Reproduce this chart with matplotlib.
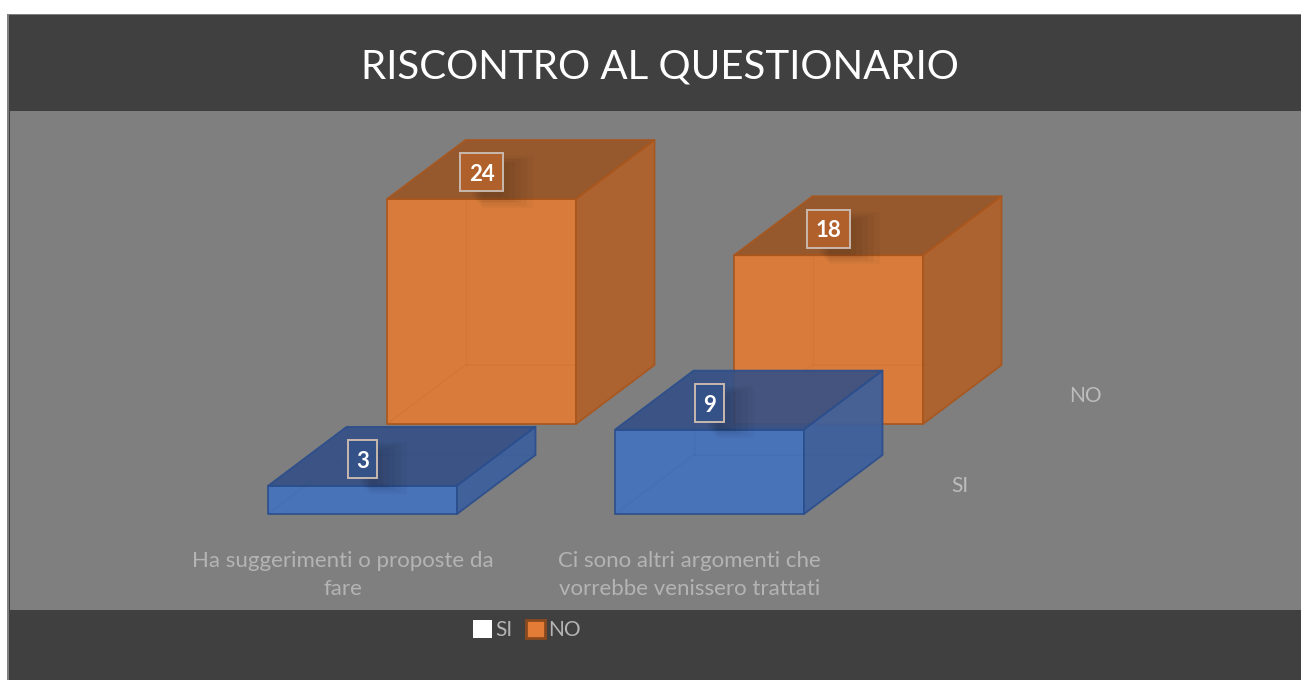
import matplotlib
matplotlib.use('Agg')
import matplotlib.pyplot as plt
from matplotlib.patches import Patch, Polygon, Rectangle

plt.rcParams['font.family'] = ['Lato', 'DejaVu Sans']

W, H = 1301, 680

title = "RISCONTRO AL QUESTIONARIO"
categories = ["Ha suggerimenti o proposte da\nfare",
              "Ci sono altri argomenti che\nvorrebbe venissero trattati"]
series_names = ["SI", "NO"]
si_values = [3, 9]
no_values = [24, 18]

# scale of the chart: pixels per category and per unit of value
PX_X = 347.0
PX_Y = 9.375
X0 = 362.5   # pixel x of category 0
Y0 = 514.0   # pixel y of value 0 for the front series

# box geometry in data units
BAR_W = 189 / PX_X
DEPTH_X = 78.5 / PX_X
DEPTH_Y = 59 / PX_Y
SERIES_X = 119 / PX_X
SERIES_Y = 90 / PX_Y


def fig_rect(x0, y0, x1, y1, color):
    # rectangle given in image pixels, y going down
    r = Rectangle((x0 / W, 1 - y1 / H), (x1 - x0) / W, (y1 - y0) / H,
                  transform=fig.transFigure, facecolor=color, edgecolor='none', zorder=-5)
    fig.add_artist(r)


def box(cat, k, value, front, top, side, edge):
    x0 = cat - BAR_W / 2 + k * SERIES_X
    x1 = x0 + BAR_W
    y0 = k * SERIES_Y
    y1 = y0 + value
    dx, dy = DEPTH_X, DEPTH_Y
    z = 3 - k
    kw = dict(edgecolor=edge, linewidth=1.3, joinstyle='round', zorder=z)
    ax.add_patch(Polygon([(x0, y0), (x1, y0), (x1, y1), (x0, y1)], facecolor=front, alpha=0.92, **kw))
    ax.add_patch(Polygon([(x0, y1), (x1, y1), (x1 + dx, y1 + dy), (x0 + dx, y1 + dy)], facecolor=top, alpha=0.9, **kw))
    ax.add_patch(Polygon([(x1, y0), (x1 + dx, y0 + dy), (x1 + dx, y1 + dy), (x1, y1)], facecolor=side, alpha=0.92, **kw))
    # hidden edges, seen through the front faces
    bx, by = x0 + dx, y0 + dy
    ax.plot([x0, bx, x1 + dx], [y0, by, by], color=edge, lw=1, alpha=0.13, zorder=z)
    ax.plot([bx, bx], [by, y1 + dy], color=edge, lw=1, alpha=0.13, zorder=z)


def value_label(cat, k, value, fill, half_w):
    x = cat + k * SERIES_X
    y = k * SERIES_Y + value + 26.5 / PX_Y
    # soft shadow below and right of the label
    for grow in range(0, 12, 2):
        ax.add_patch(Rectangle((x - (half_w - 12 - grow) / PX_X, y - (19 + 6 + grow) / PX_Y),
                               (2 * half_w + 2 * grow - 12) / PX_X, (38 + 2 * grow - 6) / PX_Y,
                               facecolor='black', edgecolor='none', alpha=0.03, zorder=5))
    ax.add_patch(Rectangle((x - half_w / PX_X, y - 19 / PX_Y), 2 * half_w / PX_X, 38 / PX_Y,
                           facecolor=fill, edgecolor='#C9B8AE', linewidth=1.4, zorder=6))
    ax.text(x, y, str(value), color='white', fontsize=16, fontweight='bold',
            ha='center', va='center_baseline', zorder=7)


fig = plt.figure(figsize=(W / 100, H / 100), dpi=100, facecolor='white')

# panels
fig_rect(7, 14, W, H, '#808080')
fig_rect(9, 15, W, H, '#404040')
fig_rect(10, 111, W, 610, '#7F7F7F')

ax = fig.add_axes([0, 0, 1, 1])
ax.patch.set_visible(False)
ax.set_xlim(-X0 / PX_X, (W - X0) / PX_X)
ax.set_ylim((Y0 - H) / PX_Y, Y0 / PX_Y)
ax.axis('off')

for i in range(len(categories)):
    box(i, 1, no_values[i], '#E27C36', '#995525', '#B2612A', '#A9561D')
    box(i, 0, si_values[i], '#4573BF', '#345086', '#3C5F9E', '#2B4E8C')

for i in range(len(categories)):
    value_label(i, 1, no_values[i], '#B0602A', 21.5)
    value_label(i, 0, si_values[i], '#355288', 14.5)

for i, name in enumerate(categories):
    ax.text(i - 20 / PX_X, (Y0 - 575) / PX_Y, name, color='#B4B4B4', fontsize=16,
            ha='center', va='center', linespacing=1.46)

for k, name in enumerate(series_names):
    ax.text(1.72 + k * 126 / PX_X, (Y0 - 486) / PX_Y + k * SERIES_Y, name,
            color='#BDBDBD', fontsize=15, ha='center', va='center')

fig.text(660 / W, 1 - 67 / H, title, color='white', fontsize=29, ha='center', va='center')

handles = [Patch(facecolor='white', edgecolor='none'),
           Patch(facecolor='#E27C36', edgecolor='#8A4A1E', linewidth=2)]
leg = fig.legend(handles, series_names, loc='center', bbox_to_anchor=(527 / W, 1 - 630 / H),
                 ncol=2, frameon=False, fontsize=15, labelcolor='#B4B4B4',
                 handlelength=0.92, handleheight=0.92, handletextpad=0.15, columnspacing=0.65)

fig.savefig('out.png', dpi=100, facecolor='white')
plt.close(fig)
